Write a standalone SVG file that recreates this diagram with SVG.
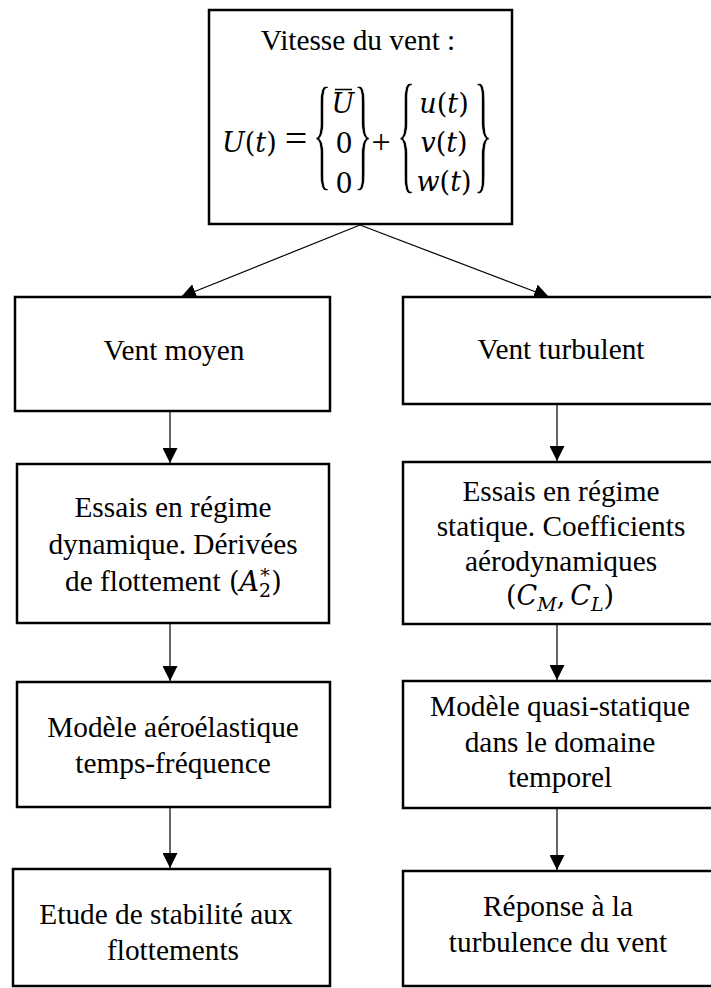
<svg xmlns="http://www.w3.org/2000/svg" width="711" height="988" viewBox="0 0 711 988">
<style>
.box{fill:#fff;stroke:#000;stroke-width:2.5}
.t{font-family:"Liberation Serif","Times New Roman",serif;font-size:29.33px;fill:#000;text-anchor:middle}
.ts{font-family:"Liberation Serif","Times New Roman",serif;font-size:29.33px;fill:#000;text-anchor:start}
.m{font-family:"DejaVu Serif","Liberation Serif",serif;font-size:27px;fill:#000}
.i{font-style:italic}
.op{font-family:"Liberation Serif","Times New Roman",serif;fill:#000;text-anchor:middle}
.br{font-family:"Liberation Serif","Times New Roman",serif;font-size:40px;fill:#000;stroke:#fff;stroke-width:0.5;text-anchor:middle}
.c{stroke:#000;stroke-width:1.2;fill:none}
</style>
<defs>
<marker id="arr" viewBox="0 0 15 15" refX="15" refY="7.5" markerWidth="15" markerHeight="15" markerUnits="userSpaceOnUse" orient="auto">
<path d="M0,0 L15,7.5 L0,15 z" fill="#000"/>
</marker>
</defs>
<rect width="711" height="988" fill="#fff"/>

<g id="connectors">
<line class="c" x1="360" y1="225" x2="181" y2="297" marker-end="url(#arr)"/>
<line class="c" x1="360" y1="225" x2="549" y2="297" marker-end="url(#arr)"/>
<line class="c" x1="170" y1="412" x2="170" y2="463" marker-end="url(#arr)"/>
<line class="c" x1="170" y1="623" x2="170" y2="681" marker-end="url(#arr)"/>
<line class="c" x1="170" y1="807" x2="170" y2="868" marker-end="url(#arr)"/>
<line class="c" x1="557" y1="404" x2="557" y2="461" marker-end="url(#arr)"/>
<line class="c" x1="557" y1="624" x2="557" y2="680" marker-end="url(#arr)"/>
<line class="c" x1="557" y1="808" x2="557" y2="870" marker-end="url(#arr)"/>
</g>

<g id="node-vitesse">
<rect class="box" x="209" y="10" width="303" height="214"/>
<text class="t" x="358" y="50">Vitesse du vent :</text>
<text class="m" x="222" y="152"><tspan class="i">U</tspan>(<tspan class="i">t</tspan>)</text>
<text class="op" x="296" y="152" font-size="40">=</text>
<text class="br" transform="translate(322,174) scale(1,3.2)">{</text>
<text class="m i" x="343" y="113" text-anchor="middle">U</text>
<line x1="335" y1="89.5" x2="352" y2="89.5" stroke="#000" stroke-width="1.5"/>
<text class="m" x="344" y="153" text-anchor="middle">0</text>
<text class="m" x="344" y="193" text-anchor="middle">0</text>
<text class="br" transform="translate(363,174) scale(1,3.2)">}</text>
<text class="op" x="381" y="153" font-size="34">+</text>
<text class="br" transform="translate(406,176) scale(1,3.35)">{</text>
<text class="m" x="444" y="113" text-anchor="middle"><tspan class="i">u</tspan>(<tspan class="i">t</tspan>)</text>
<text class="m" x="444" y="152" text-anchor="middle"><tspan class="i">v</tspan>(<tspan class="i">t</tspan>)</text>
<text class="m" x="444" y="191" text-anchor="middle"><tspan class="i">w</tspan>(<tspan class="i">t</tspan>)</text>
<text class="br" transform="translate(483,176) scale(1,3.35)">}</text>
</g>

<g id="node-vent-moyen">
<rect class="box" x="15" y="297" width="315" height="114"/>
<text class="t" x="174" y="360">Vent moyen</text>
</g>

<g id="node-vent-turbulent">
<rect class="box" x="403" y="297" width="320" height="107"/>
<text class="t" x="561" y="359">Vent turbulent</text>
</g>

<g id="node-essais-dynamique">
<rect class="box" x="17" y="464" width="312" height="159"/>
<text class="t" x="173" y="517">Essais en régime</text>
<text class="t" x="173" y="554">dynamique. Dérivées</text>
<text class="ts" x="65" y="591">de flottement</text>
<text class="m" x="229" y="591">(<tspan class="i">A</tspan><tspan font-size="19" dy="6">2</tspan><tspan font-size="19" dx="-11" dy="-15">*</tspan><tspan dx="1.5" dy="9">)</tspan></text>
</g>

<g id="node-essais-statique">
<rect class="box" x="403" y="462" width="320" height="162"/>
<text class="t" x="561" y="501">Essais en régime</text>
<text class="t" x="561" y="536">statique. Coefficients</text>
<text class="t" x="561" y="571">aérodynamiques</text>
<text class="m" x="560" y="605" text-anchor="middle">(<tspan class="i">C</tspan><tspan class="i" font-size="19" dy="6">M</tspan><tspan dy="-6">,</tspan><tspan class="i" dx="5">C</tspan><tspan class="i" font-size="19" dy="6">L</tspan><tspan dy="-6">)</tspan></text>
</g>

<g id="node-modele-aeroelastique">
<rect class="box" x="17" y="682" width="313" height="125"/>
<text class="t" x="173" y="737">Modèle aéroélastique</text>
<text class="t" x="173" y="773">temps-fréquence</text>
</g>

<g id="node-modele-quasi-statique">
<rect class="box" x="403" y="681" width="320" height="127"/>
<text class="t" x="560" y="716">Modèle quasi-statique</text>
<text class="t" x="560" y="752">dans le domaine</text>
<text class="t" x="560" y="787">temporel</text>
</g>

<g id="node-stabilite">
<rect class="box" x="13" y="869" width="317" height="117"/>
<text class="t" x="166" y="924">Etude de stabilité aux</text>
<text class="t" x="173" y="960">flottements</text>
</g>

<g id="node-reponse">
<rect class="box" x="403" y="871" width="320" height="115"/>
<text class="t" x="558" y="916">Réponse à la</text>
<text class="t" x="558" y="952">turbulence du vent</text>
</g>
</svg>
